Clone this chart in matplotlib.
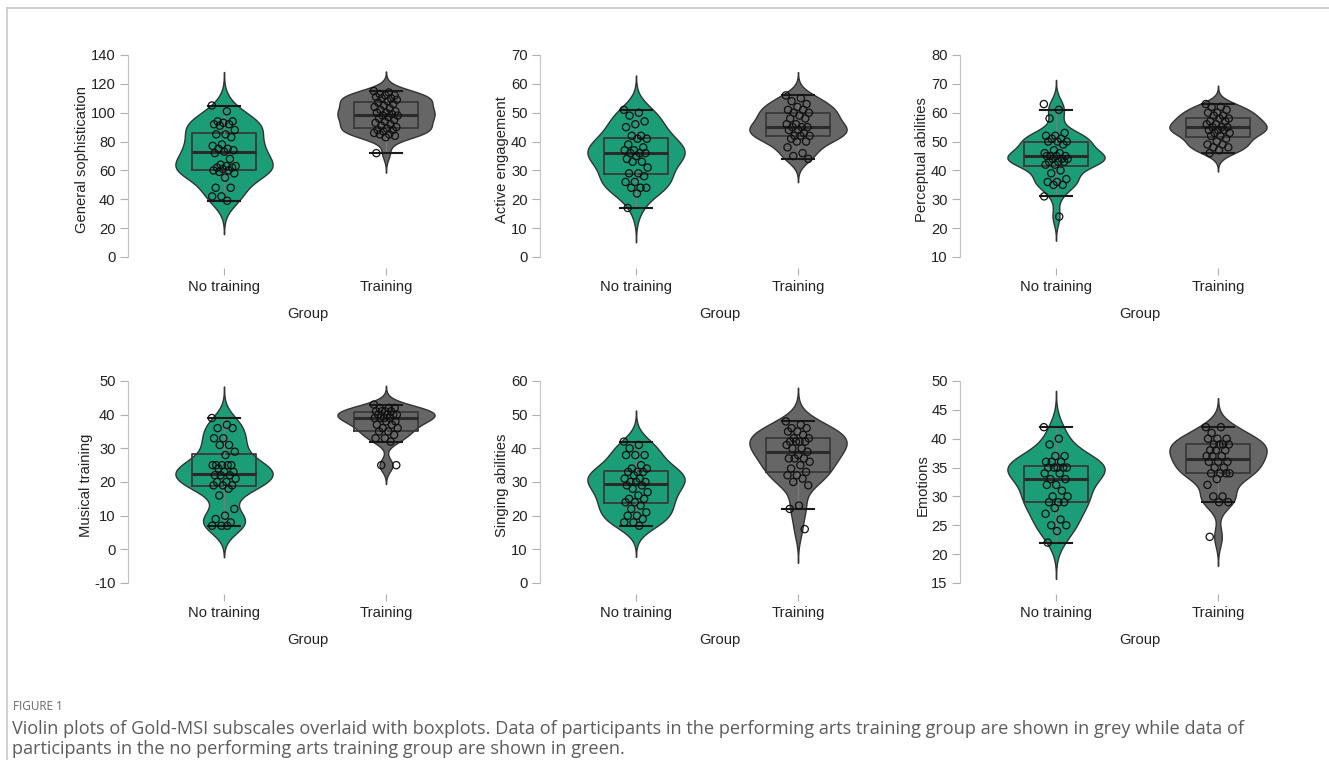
import numpy as np
import matplotlib
matplotlib.use("Agg")
import matplotlib.pyplot as plt
from matplotlib.lines import Line2D

# ---------------------------------------------------
# Datos (Gold-MSI)
# ---------------------------------------------------
grupos = ["No training", "Training"]
subescalas = ["General sophistication", "Active engagement", "Perceptual abilities",
              "Musical training", "Singing abilities", "Emotions"]

gs_no = [105, 101, 94, 94, 93, 92, 92, 91, 88, 85, 85, 83, 78, 77, 75, 75, 74, 73,
         72, 68, 64, 63, 63, 62, 62, 61, 60, 60, 59, 58, 55, 48, 48, 42, 42, 39]
gs_si = [115, 114, 113, 112, 112, 111, 110, 110, 109, 108, 107, 106, 105, 104, 103,
         102, 101, 100, 100, 99, 98, 98, 97, 96, 95, 94, 93, 92, 91, 90, 89, 88, 88,
         87, 86, 85, 85, 84, 83, 72]

ae_no = [51, 50, 49, 47, 46, 45, 42, 42, 41, 41, 39, 38, 37, 37, 36, 36, 36, 35,
         34, 33, 33, 31, 29, 29, 28, 26, 26, 24, 24, 24, 22, 17]
ae_si = [56, 55, 54, 53, 52, 51, 51, 50, 50, 49, 48, 48, 46, 46, 45, 45, 45, 44,
         44, 43, 42, 42, 42, 41, 40, 40, 38, 36, 35, 34]

pa_no = [63, 61, 58, 53, 52, 52, 51, 51, 50, 50, 50, 49, 47, 46, 46, 45, 45, 45,
         45, 44, 44, 44, 43, 43, 43, 42, 42, 40, 39, 37, 36, 36, 35, 35, 31, 24]
pa_si = [63, 62, 62, 61, 60, 60, 59, 59, 58, 58, 57, 57, 56, 56, 55, 55, 55, 54,
         54, 54, 53, 53, 52, 52, 51, 50, 49, 49, 48, 48, 47, 46]

mt_no = [39, 37, 36, 36, 33, 33, 31, 31, 29, 28, 25, 25, 25, 25, 25, 24, 23, 23,
         22, 22, 22, 21, 20, 20, 19, 19, 19, 18, 16, 12, 10, 9, 8, 7, 7, 7]
mt_si = [43, 42, 42, 42, 41, 41, 41, 41, 40, 40, 40, 40, 39, 39, 39, 39, 38, 38,
         37, 37, 36, 36, 35, 35, 34, 33, 33, 32, 25, 25]

sa_no = [42, 41, 40, 38, 38, 38, 35, 34, 34, 33, 33, 33, 32, 31, 31, 30, 30, 30,
         29, 29, 28, 27, 26, 25, 25, 24, 24, 23, 22, 21, 20, 20, 19, 18, 18, 17]
sa_si = [48, 47, 46, 46, 45, 45, 44, 43, 43, 42, 42, 42, 42, 41, 40, 40, 39, 38,
         37, 37, 37, 36, 35, 34, 33, 32, 32, 31, 30, 29, 23, 22, 16]

em_no = [42, 40, 39, 37, 37, 36, 36, 36, 35, 35, 35, 35, 35, 34, 34, 33, 33, 32,
         32, 31, 30, 30, 29, 29, 29, 28, 27, 26, 25, 25, 24, 22]
em_si = [42, 42, 41, 40, 40, 40, 39, 39, 39, 39, 38, 38, 38, 37, 37, 37, 36, 36,
         36, 35, 35, 34, 34, 34, 34, 33, 32, 30, 30, 29, 29, 23]

datos = [(gs_no, gs_si), (ae_no, ae_si), (pa_no, pa_si),
         (mt_no, mt_si), (sa_no, sa_si), (em_no, em_si)]

yticks_paneles = [np.arange(0, 141, 20), np.arange(0, 71, 10), np.arange(10, 81, 10),
                  np.arange(-10, 51, 10), np.arange(0, 61, 10), np.arange(15, 51, 5)]

colores = ["#1b9e77", "#666666"]

caption_titulo = "FIGURE 1"
caption_lineas = [
    "Violin plots of Gold-MSI subscales overlaid with boxplots. Data of participants "
    "in the performing arts training group are shown in grey while data of",
    "participants in the no performing arts training group are shown in green.",
]


# ---------------------------------------------------
# Densidad tipo R (bw.nrd0, cut = 3)
# ---------------------------------------------------
def kde_violin(valores, n_grid=512):
    x = np.asarray(valores, dtype=float)
    sd = x.std(ddof=1)
    iqr = np.subtract(*np.percentile(x, [75, 25]))
    bw = 0.9 * min(sd, iqr / 1.34) * len(x) ** (-0.2)
    y = np.linspace(x.min() - 3 * bw, x.max() + 3 * bw, n_grid)
    dens = np.exp(-0.5 * ((y[:, None] - x[None, :]) / bw) ** 2).sum(axis=1)
    return y, dens / dens.max()


def dibujar_panel(ax, pares, ticks, ylabel):
    for pos, (valores, color) in enumerate(zip(pares, colores)):
        y, d = kde_violin(valores)
        ax.fill_betweenx(y, pos - 0.3 * d, pos + 0.3 * d, facecolor=color,
                         edgecolor="#333333", linewidth=1.0, zorder=1)
        ax.boxplot([valores], positions=[pos], widths=0.4, whis=1.5, showfliers=False,
                   manage_ticks=False, capwidths=[0.2],
                   boxprops=dict(color="#3a3a3a", linewidth=1.3),
                   medianprops=dict(color="#2b2b2b", linewidth=2.2),
                   whiskerprops=dict(color="#7a7a7a", linewidth=1.0),
                   capprops=dict(color="#1a1a1a", linewidth=1.5), zorder=2)
        n = len(valores)
        jitter = (((np.arange(n) * 0.6180339887) % 1.0) - 0.5) * 0.15
        ax.scatter(pos + jitter, valores, s=27, facecolors="none",
                   edgecolors="#111111", linewidths=0.9, zorder=3)

    lo, hi = ticks[0], ticks[-1]
    rango = hi - lo
    ax.set_ylim(lo - 11 / 202 * rango, hi + 4 / 202 * rango)
    ax.set_xlim(-96 / 162, (360 - 96) / 162)
    ax.set_yticks(ticks)
    ax.set_xticks([0, 1])
    ax.set_xticklabels(grupos)
    ax.set_ylabel(ylabel, fontsize=10.6, color="#222222", labelpad=1)
    ax.set_xlabel("Group", fontsize=10.6, color="#222222", labelpad=9)
    for lado in ["top", "right", "bottom"]:
        ax.spines[lado].set_visible(False)
    ax.spines["left"].set_color("#c4c4c4")
    ax.spines["left"].set_bounds(lo, hi)
    ax.tick_params(axis="y", length=6, color="#b0b0b0", labelsize=10.6,
                   labelcolor="#222222", pad=3)
    ax.tick_params(axis="x", length=5, color="#b0b0b0", labelsize=10.6,
                   labelcolor="#222222", pad=4)


def main():
    plt.rcParams["font.family"] = ["Liberation Sans", "DejaVu Sans"]
    plt.rcParams["axes.unicode_minus"] = False
    W, H = 1329, 760
    fig = plt.figure(figsize=(W / 100, H / 100), dpi=100)

    izquierdas = [128, 540, 960]
    filas = [(51, 268), (377, 594)]  # (arriba, abajo) en pixeles

    for i, (pares, ticks, nombre) in enumerate(zip(datos, yticks_paneles, subescalas)):
        top, bottom = filas[i // 3]
        left = izquierdas[i % 3]
        ax = fig.add_axes([left / W, 1 - bottom / H, 360 / W, (bottom - top) / H])
        ax.patch.set_alpha(0)
        dibujar_panel(ax, pares, ticks, nombre)

    # marco gris de la figura
    fig.add_artist(Line2D([7 / W, 1], [1 - 8 / H, 1 - 8 / H], color="#c8c8c8", lw=1.2))
    fig.add_artist(Line2D([7 / W, 7 / W], [0, 1 - 8 / H], color="#c8c8c8", lw=1.2))

    fig.text(13 / W, 1 - 707 / H, caption_titulo, fontsize=8.5, color="#666666",
             family=["Open Sans", "DejaVu Sans"], va="center")
    for k, linea in enumerate(caption_lineas):
        fig.text(12 / W, 1 - (729 + 19.5 * k) / H, linea, fontsize=13.1, color="#5c5c5c",
                 family=["Open Sans", "DejaVu Sans"], va="center")

    fig.savefig("out.png", dpi=100)


if __name__ == "__main__":
    main()
